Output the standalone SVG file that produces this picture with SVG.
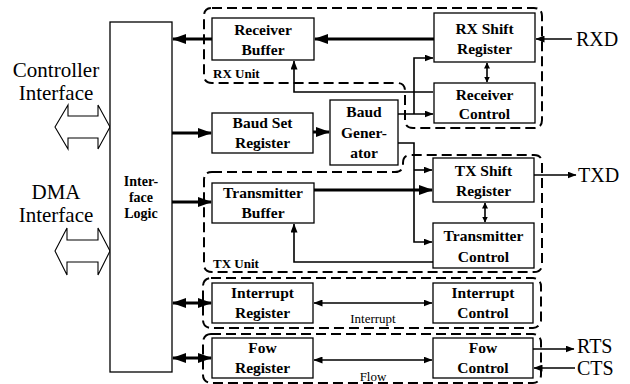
<svg xmlns="http://www.w3.org/2000/svg" width="630" height="384" viewBox="0 0 630 384">
<style>
text{font-family:'Times New Roman','Liberation Serif',Tinos,'Noto Serif','DejaVu Serif',serif;fill:#000}
.lbl{font-size:15.5px;font-weight:bold;text-anchor:middle}
.big{font-size:21px;text-anchor:middle}
.sig{font-size:20px}
.unit{font-size:13px;font-weight:bold}
.tiny{font-size:13px;text-anchor:middle}
.box{fill:#fff;stroke:#000;stroke-width:1.3}
.grp{fill:none;stroke:#000;stroke-width:2;stroke-dasharray:10 5}
.thick{fill:none;stroke:#000;stroke-width:3}
.thin{fill:none;stroke:#000;stroke-width:1.6}
.hollow{fill:#fff;stroke:#000;stroke-width:1.1}
</style>
<defs>
<marker id="hb" viewBox="0 0 14 10" markerWidth="14" markerHeight="10" refX="13" refY="5" orient="auto-start-reverse" markerUnits="userSpaceOnUse"><path d="M0,0 L14,5 L0,10 Z" fill="#000"/></marker>
<marker id="hs" viewBox="0 0 9 7" markerWidth="9" markerHeight="7" refX="8.5" refY="3.5" orient="auto-start-reverse" markerUnits="userSpaceOnUse"><path d="M0,0 L9,3.5 L0,7 Z" fill="#000"/></marker>
<marker id="hx" viewBox="0 0 6 6" markerWidth="6" markerHeight="6" refX="5.5" refY="3" orient="auto-start-reverse" markerUnits="userSpaceOnUse"><path d="M0,0 L6,3 L0,6 Z" fill="#000"/></marker>
</defs>

<g id="controller-interface">
<text class="big" x="56" y="77">Controller</text>
<text class="big" x="56" y="100">Interface</text>
<path class="hollow" d="M55,127 L68,105 L68,116 L98,116 L98,105 L110,127 L98,149 L98,138 L68,138 L68,149 Z"/>
</g>
<g id="dma-interface">
<text class="big" x="56" y="199">DMA</text>
<text class="big" x="56" y="222">Interface</text>
<path class="hollow" d="M55,251 L67,228 L67,240 L98,240 L98,228 L110,251 L98,275 L98,262 L67,262 L67,275 Z"/>
</g>

<g id="rx-unit">
<path class="grp" d="M212,8 H534 Q542,8 542,16 V120 Q542,128 534,128 H413 Q405,128 405,120 V91 Q405,83 397,83 H212 Q204,83 204,75 V16 Q204,8 212,8 Z"/>
<text class="unit" x="213" y="78">RX Unit</text>
</g>
<g id="tx-unit">
<path class="grp" d="M212,172 H395 Q403,172 403,164 V163 Q403,155 411,155 H534 Q542,155 542,163 V264 Q542,272 534,272 H212 Q204,272 204,264 V180 Q204,172 212,172 Z"/>
<text class="unit" x="213" y="268">TX Unit</text>
</g>
<g id="interrupt-unit">
<rect class="grp" x="203" y="278" width="338" height="50" rx="8"/>
<text class="tiny" x="373" y="323">Interrupt</text>
</g>
<g id="flow-unit">
<rect class="grp" x="203" y="334" width="338" height="49" rx="8"/>
<text class="tiny" x="373" y="381">Flow</text>
</g>

<g id="connectors">
<line class="thick" x1="212" y1="39" x2="173" y2="39" marker-end="url(#hb)"/>
<line class="thick" x1="434" y1="39" x2="315" y2="39" marker-end="url(#hb)"/>
<line class="thin" x1="572" y1="39" x2="536" y2="39" marker-end="url(#hs)"/>
<line class="thin" x1="487" y1="63" x2="487" y2="82" marker-start="url(#hx)" marker-end="url(#hx)"/>
<polyline class="thin" points="433,92 294,92 294,61" marker-end="url(#hs)"/>
<line class="thick" x1="172" y1="133" x2="211" y2="133" marker-end="url(#hb)"/>
<line class="thick" x1="313" y1="132" x2="329" y2="132" marker-end="url(#hb)"/>
<line class="thin" x1="398" y1="114" x2="433" y2="114" marker-end="url(#hs)"/>
<polyline class="thin" points="414,114 414,58 433,58" marker-end="url(#hs)"/>
<polyline class="thin" points="398,143 414,143 414,242 432,242" marker-end="url(#hs)"/>
<line class="thin" x1="414" y1="170" x2="432" y2="170" marker-end="url(#hs)"/>
<line class="thick" x1="172" y1="202" x2="211" y2="202" marker-end="url(#hb)"/>
<line class="thick" x1="314" y1="190" x2="432" y2="190" marker-end="url(#hb)"/>
<polyline class="thin" points="433,262 294,262 294,224" marker-end="url(#hs)"/>
<line class="thin" x1="485" y1="203" x2="485" y2="222" marker-start="url(#hx)" marker-end="url(#hx)"/>
<line class="thin" x1="534" y1="175" x2="576" y2="175" marker-end="url(#hs)"/>
<line class="thick" x1="173" y1="303" x2="211" y2="303" marker-start="url(#hb)" marker-end="url(#hb)"/>
<line class="thin" x1="314" y1="303" x2="432" y2="303" marker-start="url(#hs)" marker-end="url(#hs)"/>
<line class="thick" x1="173" y1="358" x2="211" y2="358" marker-start="url(#hb)" marker-end="url(#hb)"/>
<line class="thin" x1="314" y1="360" x2="432" y2="360" marker-start="url(#hs)" marker-end="url(#hs)"/>
<line class="thin" x1="533" y1="349" x2="574" y2="349" marker-end="url(#hs)"/>
<line class="thin" x1="575" y1="368" x2="534" y2="368" marker-end="url(#hs)"/>
</g>

<g id="interface-logic">
<rect class="box" x="110" y="22" width="62" height="350"/>
<text class="lbl" x="141" y="186" style="font-size:14px">Inter-</text>
<text class="lbl" x="141" y="202" style="font-size:14px">face</text>
<text class="lbl" x="141" y="218" style="font-size:14px">Logic</text>
</g>
<g id="receiver-buffer">
<rect class="box" x="212" y="18" width="102" height="42"/>
<text class="lbl" x="263" y="35">Receiver</text>
<text class="lbl" x="263" y="55">Buffer</text>
</g>
<g id="rx-shift-register">
<rect class="box" x="434" y="13" width="101" height="49"/>
<text class="lbl" x="484.5" y="34">RX Shift</text>
<text class="lbl" x="484.5" y="54">Register</text>
</g>
<g id="receiver-control">
<rect class="box" x="434" y="83" width="101" height="40"/>
<text class="lbl" x="484.5" y="100">Receiver</text>
<text class="lbl" x="484.5" y="119">Control</text>
</g>
<g id="baud-set-register">
<rect class="box" x="212" y="113" width="101" height="40"/>
<text class="lbl" x="262.5" y="128">Baud Set</text>
<text class="lbl" x="262.5" y="148">Register</text>
</g>
<g id="baud-generator">
<rect class="box" x="330" y="100" width="68" height="65"/>
<text class="lbl" x="364" y="117">Baud</text>
<text class="lbl" x="364" y="138">Gener-</text>
<text class="lbl" x="364" y="158">ator</text>
</g>
<g id="transmitter-buffer">
<rect class="box" x="212" y="183" width="102" height="40"/>
<text class="lbl" x="263" y="198">Transmitter</text>
<text class="lbl" x="263" y="218">Buffer</text>
</g>
<g id="tx-shift-register">
<rect class="box" x="433" y="158" width="101" height="44"/>
<text class="lbl" x="483.5" y="176">TX Shift</text>
<text class="lbl" x="483.5" y="196">Register</text>
</g>
<g id="transmitter-control">
<rect class="box" x="433" y="223" width="101" height="45"/>
<text class="lbl" x="483.5" y="241">Transmitter</text>
<text class="lbl" x="483.5" y="262">Control</text>
</g>
<g id="interrupt-register">
<rect class="box" x="212" y="283" width="101" height="40"/>
<text class="lbl" x="262.5" y="298">Interrupt</text>
<text class="lbl" x="262.5" y="318">Register</text>
</g>
<g id="interrupt-control">
<rect class="box" x="433" y="283" width="100" height="40"/>
<text class="lbl" x="483" y="298">Interrupt</text>
<text class="lbl" x="483" y="318">Control</text>
</g>
<g id="fow-register">
<rect class="box" x="212" y="338" width="101" height="40"/>
<text class="lbl" x="262.5" y="353">Fow</text>
<text class="lbl" x="262.5" y="373">Register</text>
</g>
<g id="fow-control">
<rect class="box" x="433" y="338" width="100" height="40"/>
<text class="lbl" x="483" y="353">Fow</text>
<text class="lbl" x="483" y="373">Control</text>
</g>

<g id="signals">
<text class="sig" x="576" y="46">RXD</text>
<text class="sig" x="578" y="182">TXD</text>
<text class="sig" x="577" y="353">RTS</text>
<text class="sig" x="577" y="375">CTS</text>
</g>
</svg>
